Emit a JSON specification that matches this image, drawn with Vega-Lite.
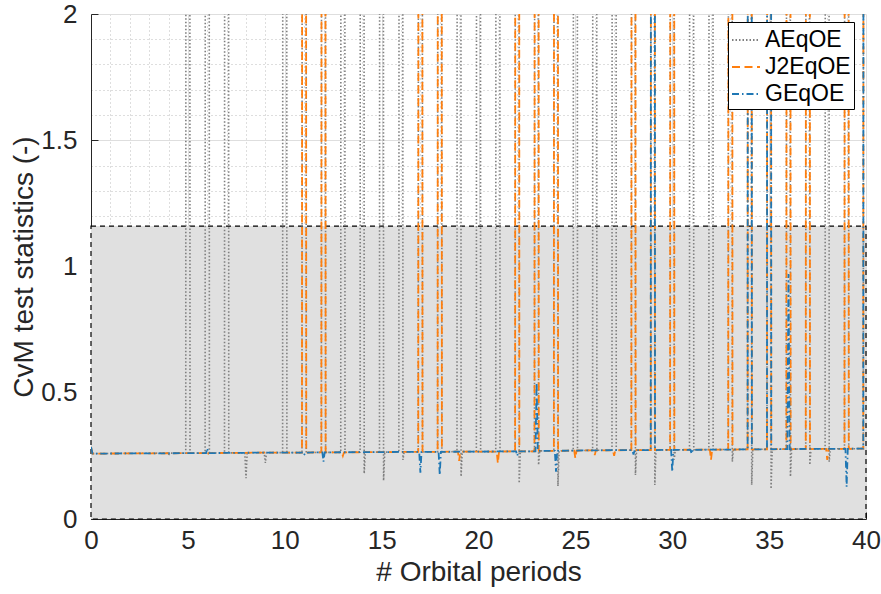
{
  "$schema": "https://vega.github.io/schema/vega-lite/v6.json",
  "width": 775,
  "height": 505,
  "autosize": {"type": "none"},
  "padding": {"left": 91, "top": 14, "right": 15, "bottom": 75},
  "background": "white",
  "config": {"view": {"stroke": null}, "font": "Liberation Sans"},
  "datasets": {
    "lines": [
      {"s":"AEqOE","x":0,"y":0.285},{"s":"AEqOE","x":0.08,"y":0.259},
      {"s":"AEqOE","x":3.94,"y":0.261},{"s":"AEqOE","x":4,"y":0.253},{"s":"AEqOE","x":4.06,"y":0.261},
      {"s":"AEqOE","x":4.89,"y":0.261},{"s":"AEqOE","x":5,"y":30},{"s":"AEqOE","x":5.11,"y":0.261},
      {"s":"AEqOE","x":5.89,"y":0.261},{"s":"AEqOE","x":6,"y":30},{"s":"AEqOE","x":6.11,"y":0.261},
      {"s":"AEqOE","x":6.89,"y":0.262},{"s":"AEqOE","x":7,"y":30},{"s":"AEqOE","x":7.11,"y":0.262},
      {"s":"AEqOE","x":7.94,"y":0.262},{"s":"AEqOE","x":8,"y":0.162},{"s":"AEqOE","x":8.06,"y":0.262},
      {"s":"AEqOE","x":8.94,"y":0.263},{"s":"AEqOE","x":9,"y":0.222},{"s":"AEqOE","x":9.06,"y":0.263},
      {"s":"AEqOE","x":9.89,"y":0.263},{"s":"AEqOE","x":10,"y":30},{"s":"AEqOE","x":10.11,"y":0.263},
      {"s":"AEqOE","x":10.89,"y":0.263},{"s":"AEqOE","x":11,"y":30},{"s":"AEqOE","x":11.11,"y":0.263},
      {"s":"AEqOE","x":11.89,"y":0.264},{"s":"AEqOE","x":12,"y":30},{"s":"AEqOE","x":12.11,"y":0.264},
      {"s":"AEqOE","x":12.89,"y":0.264},{"s":"AEqOE","x":13,"y":30},{"s":"AEqOE","x":13.11,"y":0.264},
      {"s":"AEqOE","x":13.89,"y":0.265},{"s":"AEqOE","x":14,"y":30},{"s":"AEqOE","x":14.1,"y":0.18},{"s":"AEqOE","x":14.16,"y":0.265},
      {"s":"AEqOE","x":14.89,"y":0.265},{"s":"AEqOE","x":15,"y":30},{"s":"AEqOE","x":15.1,"y":0.152},{"s":"AEqOE","x":15.16,"y":0.265},
      {"s":"AEqOE","x":15.89,"y":0.265},{"s":"AEqOE","x":16,"y":30},{"s":"AEqOE","x":16.1,"y":0.234},{"s":"AEqOE","x":16.16,"y":0.265},
      {"s":"AEqOE","x":16.89,"y":0.266},{"s":"AEqOE","x":17,"y":30},{"s":"AEqOE","x":17.11,"y":0.266},
      {"s":"AEqOE","x":17.89,"y":0.266},{"s":"AEqOE","x":18,"y":30},{"s":"AEqOE","x":18.11,"y":0.266},
      {"s":"AEqOE","x":18.89,"y":0.267},{"s":"AEqOE","x":19,"y":30},{"s":"AEqOE","x":19.1,"y":0.168},{"s":"AEqOE","x":19.16,"y":0.267},
      {"s":"AEqOE","x":19.89,"y":0.267},{"s":"AEqOE","x":20,"y":30},{"s":"AEqOE","x":20.11,"y":0.267},
      {"s":"AEqOE","x":20.89,"y":0.267},{"s":"AEqOE","x":21,"y":30},{"s":"AEqOE","x":21.11,"y":0.267},
      {"s":"AEqOE","x":21.89,"y":0.268},{"s":"AEqOE","x":22,"y":30},{"s":"AEqOE","x":22.1,"y":0.142},{"s":"AEqOE","x":22.16,"y":0.268},
      {"s":"AEqOE","x":22.89,"y":0.268},{"s":"AEqOE","x":23,"y":30},{"s":"AEqOE","x":23.1,"y":0.214},{"s":"AEqOE","x":23.16,"y":0.27},
      {"s":"AEqOE","x":23.89,"y":0.27},{"s":"AEqOE","x":24,"y":30},{"s":"AEqOE","x":24.1,"y":0.13},{"s":"AEqOE","x":24.16,"y":0.27},
      {"s":"AEqOE","x":24.89,"y":0.271},{"s":"AEqOE","x":25,"y":30},{"s":"AEqOE","x":25.11,"y":0.271},
      {"s":"AEqOE","x":25.89,"y":0.272},{"s":"AEqOE","x":26,"y":30},{"s":"AEqOE","x":26.11,"y":0.272},
      {"s":"AEqOE","x":26.89,"y":0.272},{"s":"AEqOE","x":27,"y":30},{"s":"AEqOE","x":27.11,"y":0.272},
      {"s":"AEqOE","x":27.89,"y":0.273},{"s":"AEqOE","x":28,"y":30},{"s":"AEqOE","x":28.1,"y":0.174},{"s":"AEqOE","x":28.16,"y":0.273},
      {"s":"AEqOE","x":28.89,"y":0.273},{"s":"AEqOE","x":29,"y":30},{"s":"AEqOE","x":29.1,"y":0.135},{"s":"AEqOE","x":29.16,"y":0.273},
      {"s":"AEqOE","x":29.89,"y":0.274},{"s":"AEqOE","x":30,"y":30},{"s":"AEqOE","x":30.1,"y":0.235},{"s":"AEqOE","x":30.16,"y":0.274},
      {"s":"AEqOE","x":30.89,"y":0.274},{"s":"AEqOE","x":31,"y":30},{"s":"AEqOE","x":31.11,"y":0.274},
      {"s":"AEqOE","x":31.89,"y":0.275},{"s":"AEqOE","x":32,"y":30},{"s":"AEqOE","x":32.11,"y":0.275},
      {"s":"AEqOE","x":32.89,"y":0.275},{"s":"AEqOE","x":33,"y":30},{"s":"AEqOE","x":33.1,"y":0.227},{"s":"AEqOE","x":33.16,"y":0.275},
      {"s":"AEqOE","x":33.89,"y":0.276},{"s":"AEqOE","x":34,"y":30},{"s":"AEqOE","x":34.1,"y":0.135},{"s":"AEqOE","x":34.16,"y":0.276},
      {"s":"AEqOE","x":34.89,"y":0.276},{"s":"AEqOE","x":35,"y":30},{"s":"AEqOE","x":35.1,"y":0.119},{"s":"AEqOE","x":35.16,"y":0.276},
      {"s":"AEqOE","x":35.89,"y":0.277},{"s":"AEqOE","x":36,"y":30},{"s":"AEqOE","x":36.1,"y":0.168},{"s":"AEqOE","x":36.16,"y":0.277},
      {"s":"AEqOE","x":36.89,"y":0.277},{"s":"AEqOE","x":37,"y":30},{"s":"AEqOE","x":37.1,"y":0.214},{"s":"AEqOE","x":37.16,"y":0.277},
      {"s":"AEqOE","x":37.89,"y":0.278},{"s":"AEqOE","x":38,"y":30},{"s":"AEqOE","x":38.1,"y":0.227},{"s":"AEqOE","x":38.16,"y":0.278},
      {"s":"AEqOE","x":38.89,"y":0.278},{"s":"AEqOE","x":39,"y":30},{"s":"AEqOE","x":39.11,"y":0.278},
      {"s":"AEqOE","x":39.86,"y":0.279},{"s":"AEqOE","x":39.97,"y":30},

      {"s":"J2EqOE","x":0,"y":0.285},{"s":"J2EqOE","x":0.08,"y":0.259},
      {"s":"J2EqOE","x":5.94,"y":0.261},{"s":"J2EqOE","x":6,"y":0.25},{"s":"J2EqOE","x":6.06,"y":0.261},
      {"s":"J2EqOE","x":9,"y":0.263},
      {"s":"J2EqOE","x":10.89,"y":0.263},{"s":"J2EqOE","x":11,"y":30},{"s":"J2EqOE","x":11.11,"y":0.263},
      {"s":"J2EqOE","x":11.89,"y":0.264},{"s":"J2EqOE","x":12,"y":30},{"s":"J2EqOE","x":12.11,"y":0.264},
      {"s":"J2EqOE","x":12.94,"y":0.264},{"s":"J2EqOE","x":13,"y":0.25},{"s":"J2EqOE","x":13.06,"y":0.264},
      {"s":"J2EqOE","x":15,"y":0.265},
      {"s":"J2EqOE","x":16.89,"y":0.266},{"s":"J2EqOE","x":17,"y":30},{"s":"J2EqOE","x":17.11,"y":0.266},
      {"s":"J2EqOE","x":17.89,"y":0.266},{"s":"J2EqOE","x":18,"y":30},{"s":"J2EqOE","x":18.11,"y":0.266},
      {"s":"J2EqOE","x":18.94,"y":0.267},{"s":"J2EqOE","x":19,"y":0.23},{"s":"J2EqOE","x":19.06,"y":0.267},
      {"s":"J2EqOE","x":20.94,"y":0.267},{"s":"J2EqOE","x":21,"y":0.22},{"s":"J2EqOE","x":21.06,"y":0.267},
      {"s":"J2EqOE","x":21.89,"y":0.268},{"s":"J2EqOE","x":22,"y":30},{"s":"J2EqOE","x":22.11,"y":0.268},
      {"s":"J2EqOE","x":22.89,"y":0.268},{"s":"J2EqOE","x":23,"y":30},{"s":"J2EqOE","x":23.11,"y":0.27},
      {"s":"J2EqOE","x":23.89,"y":0.27},{"s":"J2EqOE","x":24,"y":30},{"s":"J2EqOE","x":24.11,"y":0.27},
      {"s":"J2EqOE","x":24.94,"y":0.271},{"s":"J2EqOE","x":25,"y":0.24},{"s":"J2EqOE","x":25.06,"y":0.271},
      {"s":"J2EqOE","x":25.94,"y":0.272},{"s":"J2EqOE","x":26,"y":0.253},{"s":"J2EqOE","x":26.06,"y":0.272},
      {"s":"J2EqOE","x":26.94,"y":0.272},{"s":"J2EqOE","x":27,"y":0.25},{"s":"J2EqOE","x":27.06,"y":0.272},
      {"s":"J2EqOE","x":27.89,"y":0.273},{"s":"J2EqOE","x":28,"y":30},{"s":"J2EqOE","x":28.11,"y":0.273},
      {"s":"J2EqOE","x":28.89,"y":0.273},{"s":"J2EqOE","x":29,"y":30},{"s":"J2EqOE","x":29.11,"y":0.273},
      {"s":"J2EqOE","x":29.89,"y":0.274},{"s":"J2EqOE","x":30,"y":30},{"s":"J2EqOE","x":30.11,"y":0.274},
      {"s":"J2EqOE","x":31.94,"y":0.275},{"s":"J2EqOE","x":32,"y":0.234},{"s":"J2EqOE","x":32.06,"y":0.275},
      {"s":"J2EqOE","x":32.89,"y":0.275},{"s":"J2EqOE","x":33,"y":30},{"s":"J2EqOE","x":33.11,"y":0.275},
      {"s":"J2EqOE","x":33.89,"y":0.276},{"s":"J2EqOE","x":34,"y":30},{"s":"J2EqOE","x":34.11,"y":0.276},
      {"s":"J2EqOE","x":34.89,"y":0.276},{"s":"J2EqOE","x":35,"y":30},{"s":"J2EqOE","x":35.11,"y":0.276},
      {"s":"J2EqOE","x":35.89,"y":0.277},{"s":"J2EqOE","x":36,"y":30},{"s":"J2EqOE","x":36.11,"y":0.277},
      {"s":"J2EqOE","x":36.89,"y":0.277},{"s":"J2EqOE","x":37,"y":30},{"s":"J2EqOE","x":37.11,"y":0.277},
      {"s":"J2EqOE","x":37.94,"y":0.278},{"s":"J2EqOE","x":38,"y":0.234},{"s":"J2EqOE","x":38.06,"y":0.278},
      {"s":"J2EqOE","x":38.89,"y":0.278},{"s":"J2EqOE","x":39,"y":30},{"s":"J2EqOE","x":39.11,"y":0.278},
      {"s":"J2EqOE","x":39.86,"y":0.279},{"s":"J2EqOE","x":39.97,"y":30},

      {"s":"GEqOE","x":0,"y":0.285},{"s":"GEqOE","x":0.08,"y":0.259},
      {"s":"GEqOE","x":5.94,"y":0.261},{"s":"GEqOE","x":6,"y":0.28},{"s":"GEqOE","x":6.06,"y":0.261},
      {"s":"GEqOE","x":9,"y":0.263},
      {"s":"GEqOE","x":10.94,"y":0.263},{"s":"GEqOE","x":11,"y":0.253},{"s":"GEqOE","x":11.06,"y":0.263},
      {"s":"GEqOE","x":11.94,"y":0.264},{"s":"GEqOE","x":12,"y":0.227},{"s":"GEqOE","x":12.06,"y":0.264},
      {"s":"GEqOE","x":15,"y":0.265},
      {"s":"GEqOE","x":16.94,"y":0.266},{"s":"GEqOE","x":17,"y":0.183},{"s":"GEqOE","x":17.06,"y":0.266},
      {"s":"GEqOE","x":17.94,"y":0.266},{"s":"GEqOE","x":18,"y":0.174},{"s":"GEqOE","x":18.06,"y":0.266},
      {"s":"GEqOE","x":20,"y":0.267},
      {"s":"GEqOE","x":21.94,"y":0.268},{"s":"GEqOE","x":22,"y":0.25},{"s":"GEqOE","x":22.06,"y":0.268},
      {"s":"GEqOE","x":22.94,"y":0.268},{"s":"GEqOE","x":23,"y":0.54},{"s":"GEqOE","x":23.06,"y":0.27},
      {"s":"GEqOE","x":23.94,"y":0.27},{"s":"GEqOE","x":24,"y":0.187},{"s":"GEqOE","x":24.06,"y":0.27},
      {"s":"GEqOE","x":26,"y":0.272},
      {"s":"GEqOE","x":27.94,"y":0.273},{"s":"GEqOE","x":28,"y":0.255},{"s":"GEqOE","x":28.06,"y":0.273},
      {"s":"GEqOE","x":28.89,"y":0.273},{"s":"GEqOE","x":29,"y":30},{"s":"GEqOE","x":29.11,"y":0.273},
      {"s":"GEqOE","x":29.94,"y":0.274},{"s":"GEqOE","x":30,"y":0.187},{"s":"GEqOE","x":30.06,"y":0.274},
      {"s":"GEqOE","x":30.94,"y":0.274},{"s":"GEqOE","x":31,"y":0.258},{"s":"GEqOE","x":31.06,"y":0.274},
      {"s":"GEqOE","x":33,"y":0.275},
      {"s":"GEqOE","x":33.89,"y":0.276},{"s":"GEqOE","x":34,"y":30},{"s":"GEqOE","x":34.11,"y":0.276},
      {"s":"GEqOE","x":34.89,"y":0.276},{"s":"GEqOE","x":35,"y":30},{"s":"GEqOE","x":35.11,"y":0.276},
      {"s":"GEqOE","x":35.94,"y":0.277},{"s":"GEqOE","x":36,"y":0.97},{"s":"GEqOE","x":36.06,"y":0.277},
      {"s":"GEqOE","x":38,"y":0.278},
      {"s":"GEqOE","x":38.94,"y":0.278},{"s":"GEqOE","x":39,"y":0.128},{"s":"GEqOE","x":39.06,"y":0.278},
      {"s":"GEqOE","x":39.86,"y":0.279},{"s":"GEqOE","x":39.97,"y":30}
    ]
  },
  "encoding": {
    "x": {
      "type": "quantitative",
      "scale": {"domain": [0, 40], "nice": false, "zero": false},
      "axis": {
        "title": "# Orbital periods",
        "values": [0,1,2,3,4,5,6,7,8,9,10,11,12,13,14,15,16,17,18,19,20,21,22,23,24,25,26,27,28,29,30,31,32,33,34,35,36,37,38,39,40],
        "format": "d",
        "labelExpr": "datum.value % 5 === 0 ? datum.label : ''",
        "labelOverlap": false,
        "labelBound": false,
        "labelFlush": false,
        "labelFontSize": 26,
        "labelColor": "#262626",
        "labelPadding": 15,
        "titleFontSize": 28,
        "titleFontWeight": "normal",
        "titleColor": "#262626",
        "titlePadding": 5,
        "domainColor": "#262626",
        "tickColor": "#262626",
        "tickSize": -7,
        "tickOpacity": {"condition": {"test": "datum.value % 5 === 0", "value": 1}, "value": 0},
        "grid": true,
        "gridColor": {"condition": {"test": "datum.value % 5 === 0", "value": "#dedede"}, "value": "#bdbdbd"},
        "gridDash": {"condition": {"test": "datum.value % 5 === 0", "value": []}, "value": [1, 3]},
        "gridWidth": 1
      }
    },
    "y": {
      "type": "quantitative",
      "scale": {"domain": [0, 2], "nice": false, "zero": false},
      "axis": {
        "title": "CvM test statistics (-)",
        "values": [0,0.1,0.2,0.3,0.4,0.5,0.6,0.7,0.8,0.9,1,1.1,1.2,1.3,1.4,1.5,1.6,1.7,1.8,1.9,2],
        "format": "~g",
        "labelExpr": "round(datum.value*10) % 5 === 0 ? datum.label : ''",
        "labelOverlap": false,
        "labelBound": false,
        "labelFlush": false,
        "labelFontSize": 26,
        "labelColor": "#262626",
        "labelPadding": 21,
        "titleFontSize": 28,
        "titleFontWeight": "normal",
        "titleColor": "#262626",
        "titlePadding": 2,
        "domainColor": "#262626",
        "tickColor": "#262626",
        "tickSize": -7,
        "tickOpacity": {"condition": {"test": "round(datum.value*10) % 5 === 0", "value": 1}, "value": 0},
        "grid": true,
        "gridColor": {"condition": {"test": "round(datum.value*10) % 5 === 0", "value": "#dedede"}, "value": "#bdbdbd"},
        "gridDash": {"condition": {"test": "round(datum.value*10) % 5 === 0", "value": []}, "value": [1, 3]},
        "gridWidth": 1
      }
    }
  },
  "layer": [
    {
      "data": {"values": [{"x": 0, "x1": 40, "y": 0, "y1": 1.16}]},
      "mark": {"type": "rect", "fill": "#e0e0e0", "stroke": "#000000", "strokeDash": [5, 4], "strokeWidth": 1.2},
      "encoding": {
        "x": {"field": "x"},
        "x2": {"field": "x1"},
        "y": {"field": "y"},
        "y2": {"field": "y1"}
      }
    },
    {
      "data": {"name": "lines"},
      "transform": [{"filter": "datum.s === 'AEqOE'"}],
      "mark": {"type": "line", "clip": true, "strokeWidth": 1.6},
      "encoding": {
        "x": {"field": "x"},
        "y": {"field": "y"},
        "color": {"field": "s", "type": "nominal", "scale": {"domain": ["AEqOE", "J2EqOE", "GEqOE"], "range": ["#7f7f7f", "#ff7f0e", "#1f77b4"]}, "legend": {"title": null, "orient": "none", "legendX": 637, "legendY": 8, "fillColor": "white", "strokeColor": "black", "padding": 3, "symbolType": "stroke", "symbolSize": 784, "symbolStrokeWidth": 2, "labelFontSize": 23, "labelColor": "black", "labelOffset": 4, "rowPadding": -1}},
        "strokeDash": {"field": "s", "type": "nominal", "scale": {"domain": ["AEqOE", "J2EqOE", "GEqOE"], "range": [[1.5, 2], [8, 4.5], [7, 3, 1.5, 3]]}, "legend": {"title": null, "orient": "none", "legendX": 637, "legendY": 8, "fillColor": "white", "strokeColor": "black", "padding": 3, "symbolType": "stroke", "symbolSize": 784, "symbolStrokeWidth": 2, "labelFontSize": 23, "labelColor": "black", "labelOffset": 4, "rowPadding": -1}}
      }
    },
    {
      "data": {"name": "lines"},
      "transform": [{"filter": "datum.s === 'J2EqOE'"}],
      "mark": {"type": "line", "clip": true, "strokeWidth": 1.8},
      "encoding": {
        "x": {"field": "x"},
        "y": {"field": "y"},
        "color": {"field": "s", "type": "nominal", "scale": {"domain": ["AEqOE", "J2EqOE", "GEqOE"], "range": ["#7f7f7f", "#ff7f0e", "#1f77b4"]}, "legend": {"title": null, "orient": "none", "legendX": 637, "legendY": 8, "fillColor": "white", "strokeColor": "black", "padding": 3, "symbolType": "stroke", "symbolSize": 784, "symbolStrokeWidth": 2, "labelFontSize": 23, "labelColor": "black", "labelOffset": 4, "rowPadding": -1}},
        "strokeDash": {"field": "s", "type": "nominal", "scale": {"domain": ["AEqOE", "J2EqOE", "GEqOE"], "range": [[1.5, 2], [8, 4.5], [7, 3, 1.5, 3]]}, "legend": {"title": null, "orient": "none", "legendX": 637, "legendY": 8, "fillColor": "white", "strokeColor": "black", "padding": 3, "symbolType": "stroke", "symbolSize": 784, "symbolStrokeWidth": 2, "labelFontSize": 23, "labelColor": "black", "labelOffset": 4, "rowPadding": -1}}
      }
    },
    {
      "data": {"name": "lines"},
      "transform": [{"filter": "datum.s === 'GEqOE'"}],
      "mark": {"type": "line", "clip": true, "strokeWidth": 1.8},
      "encoding": {
        "x": {"field": "x"},
        "y": {"field": "y"},
        "color": {"field": "s", "type": "nominal", "scale": {"domain": ["AEqOE", "J2EqOE", "GEqOE"], "range": ["#7f7f7f", "#ff7f0e", "#1f77b4"]}, "legend": {"title": null, "orient": "none", "legendX": 637, "legendY": 8, "fillColor": "white", "strokeColor": "black", "padding": 3, "symbolType": "stroke", "symbolSize": 784, "symbolStrokeWidth": 2, "labelFontSize": 23, "labelColor": "black", "labelOffset": 4, "rowPadding": -1}},
        "strokeDash": {"field": "s", "type": "nominal", "scale": {"domain": ["AEqOE", "J2EqOE", "GEqOE"], "range": [[1.5, 2], [8, 4.5], [7, 3, 1.5, 3]]}, "legend": {"title": null, "orient": "none", "legendX": 637, "legendY": 8, "fillColor": "white", "strokeColor": "black", "padding": 3, "symbolType": "stroke", "symbolSize": 784, "symbolStrokeWidth": 2, "labelFontSize": 23, "labelColor": "black", "labelOffset": 4, "rowPadding": -1}}
      }
    }
  ]
}
